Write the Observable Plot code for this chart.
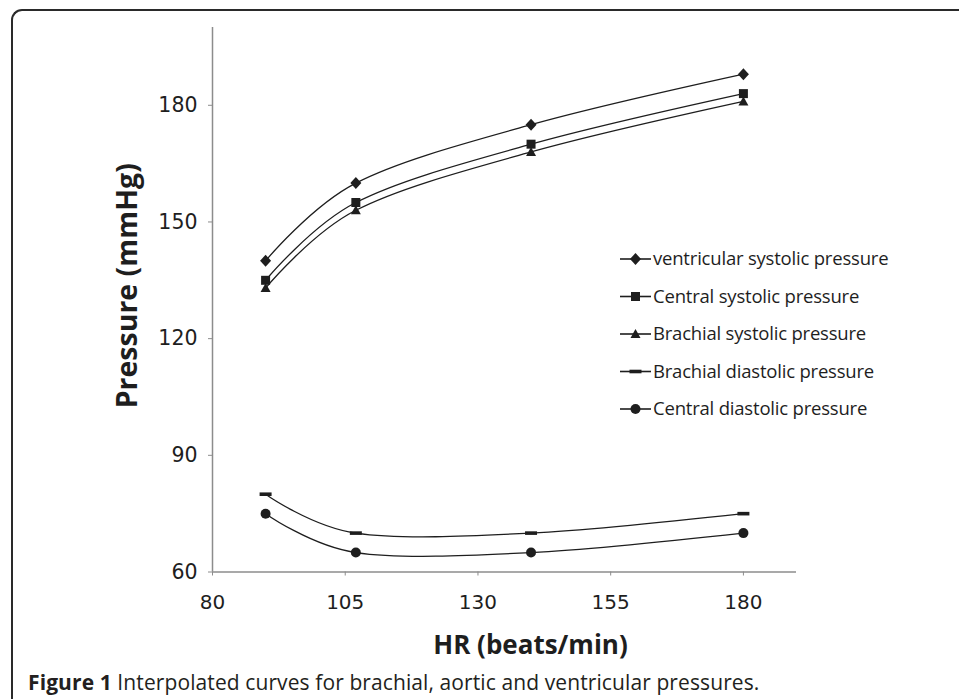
<!DOCTYPE html>
<html>
<head>
<meta charset="utf-8">
<script src="https://cdn.jsdelivr.net/npm/d3@7"></script>
<script src="https://cdn.jsdelivr.net/npm/@observablehq/plot@0.6"></script>
<style>
  html, body { margin: 0; padding: 0; background: #fff; }
  #page { position: relative; width: 959px; height: 699px; overflow: hidden; background: #fff; }
  #frame { position: absolute; left: 11px; top: 9px; width: 960px; height: 700px;
           border-top: 2px solid #2a2a2a; border-left: 2px solid #2a2a2a; border-top-left-radius: 11px; box-sizing: border-box; }
  #chart { position: absolute; left: 0; top: 0; }
  #caption { position: absolute; left: 28px; top: 668px; font-family: "Open Sans", sans-serif; font-size: 21px; line-height: 28px; color: #231f20; white-space: nowrap; letter-spacing: 0.1px; }
  #caption b { font-weight: 700; }
</style>
</head>
<body>
<div id="page">
  <div id="frame"></div>
  <div id="chart"></div>
  <div id="caption"><b>Figure 1</b> Interpolated curves for brachial, aortic and ventricular pressures.</div>
</div>
<script>
// ---- data ----
const hr = [90, 107, 140, 180];
const ventricularSystolic = [140, 160, 175, 188];
const centralSystolic = [135, 155, 170, 183];
const brachialSystolic = [133, 153, 168, 181];
const brachialDiastolic = [80, 70, 70, 75];
const centralDiastolic = [75, 65, 65, 70];
const seriesNames = [
  "ventricular systolic pressure",
  "Central systolic pressure",
  "Brachial systolic pressure",
  "Brachial diastolic pressure",
  "Central diastolic pressure"
];
const xTicks = [80, 105, 130, 155, 180];
const yTicks = [60, 90, 120, 150, 180];
const xTitle = "HR (beats/min)";
const yTitle = "Pressure (mmHg)";

// ---- custom marker symbols ----
const symDiamond = {draw(c) { c.moveTo(0, -6); c.lineTo(5.5, 0); c.lineTo(0, 6); c.lineTo(-5.5, 0); c.closePath(); }};
const symSquare = {draw(c) { c.rect(-4.5, -4.5, 9, 9); }};
const symTriangle = {draw(c) { c.moveTo(0, -5); c.lineTo(5, 4); c.lineTo(-5, 4); c.closePath(); }};
const symDash = {draw(c) { c.rect(-6, -1.8, 12, 3.6); }};
const symCircle = {draw(c) { c.moveTo(5, 0); c.arc(0, 0, 5, 0, 2 * Math.PI); c.closePath(); }};
const symbols = [symDiamond, symSquare, symTriangle, symDash, symCircle];

const seriesValues = [ventricularSystolic, centralSystolic, brachialSystolic, brachialDiastolic, centralDiastolic];
const rows = seriesValues.flatMap((vals, s) => vals.map((v, i) => ({series: seriesNames[s], s, hr: hr[i], p: v})));

const ink = "#1e1e1e";
const axisGray = "#8c8c8c";

const marks = [
  Plot.ruleX([80], {stroke: axisGray, strokeWidth: 1.5}),
  Plot.ruleY([60], {stroke: axisGray, strokeWidth: 1.5}),
  Plot.axisX({ticks: xTicks, tickSize: 4, tickPadding: 19, stroke: axisGray, fill: ink, fontSize: 20, label: null}),
  Plot.axisY({ticks: yTicks, tickSize: 4, tickPadding: 11, stroke: axisGray, fill: ink, fontSize: 20.5, label: null}),
  Plot.line(rows, {x: "hr", y: "p", z: "series", curve: "cardinal", stroke: ink, strokeWidth: 1.3}),
  ...symbols.map((sym, s) =>
    Plot.dot(rows.filter(d => d.s === s), {x: "hr", y: "p", symbol: sym, r: 5, fill: ink, stroke: "none"})),
  Plot.text([xTitle], {frameAnchor: "bottom", dx: 26, dy: 74, fontSize: 26, fontWeight: "bold", fill: ink, fontFamily: "Open Sans", lineAnchor: "middle", textAnchor: "middle"}),
  Plot.text([yTitle], {frameAnchor: "left", dx: -85, dy: -14, rotate: -90, fontSize: 28.5, fontWeight: "bold", fill: ink, fontFamily: "Open Sans", lineAnchor: "middle", textAnchor: "middle"})
];

const svg = Plot.plot({
  width: 959,
  height: 665,
  marginLeft: 212,
  marginRight: 163,
  marginTop: 27,
  marginBottom: 93.5,
  x: {domain: [80, 190]},
  y: {domain: [60, 200]},
  style: {fontFamily: "DejaVu Sans", background: "transparent", color: ink, overflow: "visible"},
  marks
});

// ---- legend (drawn into the plot's svg) ----
const lg = d3.select(svg).append("g").attr("class", "legend").attr("text-anchor", "start");
const legendX = 620, legendY0 = 259, legendStep = 37.5;
seriesNames.forEach((name, s) => {
  const y = legendY0 + s * legendStep;
  lg.append("line").attr("x1", legendX).attr("x2", legendX + 31).attr("y1", y).attr("y2", y)
    .attr("stroke", ink).attr("stroke-width", 1.6);
  lg.append("path").attr("d", d3.symbol(symbols[s])()).attr("transform", `translate(${legendX + 15.5},${y})`).attr("fill", ink);
  lg.append("text").attr("x", legendX + 33).attr("y", y).attr("dy", "0.35em")
    .attr("font-family", "'Open Sans', sans-serif")
    .attr("font-size", 18.5).attr("letter-spacing", "-0.2px").attr("fill", ink).text(name);
});

document.getElementById("chart").appendChild(svg);
</script>
</body>
</html>
